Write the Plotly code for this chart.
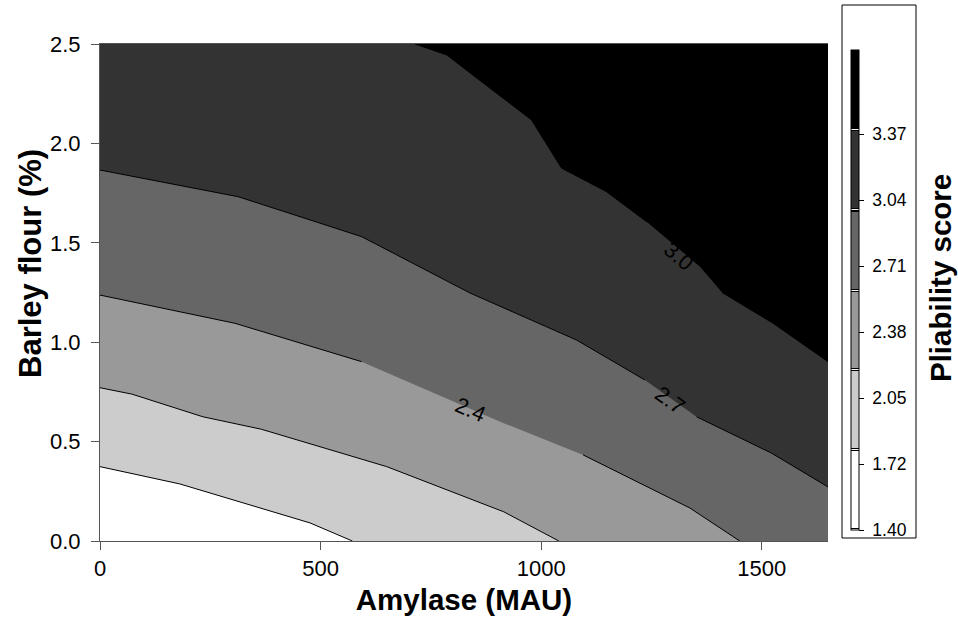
import math
import plotly.graph_objects as go

# Pliability score contour levels and their boundary vertices
# x: Amylase (MAU), y: Barley flour (%)
LEVELS = [1.8, 2.1, 2.4, 2.7, 3.0]

L18_X = [0, 181, 476, 572]
L18_Y = [0.374, 0.287, 0.091, 0.0]

L21_X = [0, 72, 233, 366, 650, 915, 1040]
L21_Y = [0.771, 0.739, 0.625, 0.562, 0.374, 0.147, 0.0]

L24_X = [0, 306, 593, 907, 1095, 1337, 1450]
L24_Y = [1.237, 1.095, 0.902, 0.600, 0.433, 0.166, 0.0]

L27_X = [0, 313, 593, 839, 1080, 1235, 1352, 1522, 1650]
L27_Y = [1.866, 1.732, 1.531, 1.247, 1.011, 0.810, 0.625, 0.442, 0.272]

L30_X = [714, 786, 839, 978, 1046, 1148, 1239, 1360, 1410, 1525, 1650]
L30_Y = [2.5, 2.445, 2.354, 2.118, 1.876, 1.757, 1.606, 1.380, 1.250, 1.096, 0.902]

LINES_X = [L18_X, L21_X, L24_X, L27_X, L30_X]
LINES_Y = [L18_Y, L21_Y, L24_Y, L27_Y, L30_Y]

# Inline contour labels: level, label centre, stretch of line left unstroked
LABEL_LEVELS = [2.4, 2.7, 3.0]
LABEL_X = [839, 1294, 1312]
LABEL_Y = [0.659, 0.709, 1.429]
LABEL_GAP_FROM = [593, 1235, 1239]
LABEL_GAP_TO = [1095, 1352, 1410]

# Colour bar tick labels
CBAR_TICK_TEXT = ["1.40", "1.72", "2.05", "2.38", "2.71", "3.04", "3.37"]
CBAR_TICK_VALS = [1.50, 1.7475, 1.995, 2.2425, 2.49, 2.7375, 2.985]

X_TICKS = [0, 500, 1000, 1500]
Y_TICKS = [0.0, 0.5, 1.0, 1.5, 2.0, 2.5]
XMAX, YMAX = 1650, 2.5

BAND_COLORS = ["#ffffff", "#cccccc", "#999999", "#666666", "#333333", "#000000"]
FONT = "Arial, 'Liberation Sans', sans-serif"
TITLE_SIZE = 29.5

W, H = 958, 627
MARGIN = dict(l=100, r=130, t=44, b=86)
PW = W - MARGIN["l"] - MARGIN["r"]
PH = H - MARGIN["t"] - MARGIN["b"]
SX = PW / XMAX
SY = PH / YMAX


def px_x(p):
    return (p - MARGIN["l"]) / PW


def px_y(p):
    return (H - MARGIN["b"] - p) / PH


def region_above(xs, ys):
    """Close a level line round the high-score (top-right) side of the plot."""
    px, py = list(xs), list(ys)
    if py[-1] <= 0:
        px += [XMAX, XMAX]
        py += [0, YMAX]
    else:
        px += [XMAX]
        py += [YMAX]
    if px[0] <= 0:
        px += [0]
        py += [YMAX]
    return px, py


fig = go.Figure()

# filled bands, lowest level first so higher bands sit on top
for lvl, xs, ys, col in zip(LEVELS, LINES_X, LINES_Y, BAND_COLORS[1:]):
    px, py = region_above(xs, ys)
    fig.add_trace(go.Scatter(
        x=px, y=py, mode="lines", fill="toself", fillcolor=col,
        line=dict(width=0, color=col), hoverinfo="skip", showlegend=False,
    ))

# contour strokes, broken where an inline label sits
for lvl, xs, ys in zip(LEVELS, LINES_X, LINES_Y):
    sx_, sy_ = list(xs), list(ys)
    if lvl in LABEL_LEVELS:
        k = LABEL_LEVELS.index(lvl)
        a, b = LABEL_GAP_FROM[k], LABEL_GAP_TO[k]
        sx_, sy_ = [], []
        for x, y in zip(xs, ys):
            if x <= a:
                sx_.append(x); sy_.append(y)
        sx_.append(None); sy_.append(None)
        for x, y in zip(xs, ys):
            if x >= b:
                sx_.append(x); sy_.append(y)
    fig.add_trace(go.Scatter(
        x=sx_, y=sy_, mode="lines", line=dict(color="black", width=1),
        hoverinfo="skip", showlegend=False, connectgaps=False,
    ))

# inline labels, rotated along their line
for lvl, lx, ly in zip(LABEL_LEVELS, LABEL_X, LABEL_Y):
    k = LEVELS.index(lvl)
    xs, ys = LINES_X[k], LINES_Y[k]
    i = max(j for j in range(len(xs) - 1) if xs[j] <= lx)
    dx = (xs[i + 1] - xs[i]) * SX
    dy = (ys[i] - ys[i + 1]) * SY
    ang = math.degrees(math.atan2(dy, dx))
    fig.add_annotation(
        x=lx, y=ly, text=f"{lvl:.1f}",
        textangle=ang, showarrow=False, xanchor="center", yanchor="middle",
        font=dict(family=FONT, size=22, color="black"),
    )

# colour bar
step = LEVELS[1] - LEVELS[0]
cmin, cmax = LEVELS[0] - step, LEVELS[-1] + step
bar_len = 480
g, o = 0.5 / bar_len, 1.0 / bar_len
n = len(BAND_COLORS)
cscale = []
for i, c in enumerate(BAND_COLORS):
    a, b = i / n, (i + 1) / n
    cscale += [[a, "white"], [a + g, "white"], [a + g, "black"], [a + g + o, "black"],
               [a + g + o, c], [b - g - o, c], [b - g - o, "black"], [b - g, "black"],
               [b - g, "white"], [b, "white"]]

fig.add_trace(go.Scatter(
    x=[None], y=[None], mode="markers", hoverinfo="skip", showlegend=False,
    marker=dict(
        color=[cmin], cmin=cmin, cmax=cmax, colorscale=cscale, showscale=True,
        colorbar=dict(
            x=px_x(851), xanchor="left", xpad=0,
            y=px_y(290), yanchor="middle", ypad=0,
            lenmode="pixels", len=bar_len, thickness=8,
            outlinewidth=1, outlinecolor="black",
            tickmode="array", tickvals=CBAR_TICK_VALS,
            ticktext=["\u00a0" + t for t in CBAR_TICK_TEXT],
            ticks="outside", ticklen=5, tickwidth=1, tickcolor="black",
            tickfont=dict(family=FONT, size=17.5, color="black"),
        ),
    ),
))

# frame round the colour bar
fig.add_shape(type="rect", xref="paper", yref="paper",
              x0=px_x(842), x1=px_x(916), y0=px_y(538), y1=px_y(5),
              line=dict(color="black", width=1), fillcolor="rgba(0,0,0,0)")

fig.add_annotation(
    xref="paper", yref="paper", x=px_x(940), y=px_y(278),
    xanchor="center", yanchor="middle",
    text="<b>Pliability score</b>", textangle=-90, showarrow=False,
    font=dict(family=FONT, size=TITLE_SIZE, color="black"),
)

fig.add_annotation(
    xref="paper", yref="paper", x=px_x(30), y=px_y(264),
    xanchor="center", yanchor="middle",
    text="<b>Barley flour (%)</b>", textangle=-90, showarrow=False,
    font=dict(family=FONT, size=31, color="black"),
)

axis_common = dict(
    showline=True, linecolor="#555555", linewidth=1,
    ticks="outside", ticklen=8, tickwidth=1, tickcolor="#555555",
    showgrid=False, zeroline=False,
    tickfont=dict(family=FONT, size=22, color="black"),
)

fig.update_layout(
    width=W, height=H, margin=MARGIN,
    paper_bgcolor="white", plot_bgcolor="white",
    xaxis=dict(range=[0, XMAX], tickvals=X_TICKS, mirror=True,
               title=dict(text="<b>Amylase (MAU)</b>", standoff=8,
                          font=dict(family=FONT, size=TITLE_SIZE, color="black")),
               **axis_common),
    yaxis=dict(range=[0, YMAX], tickvals=Y_TICKS, tickformat=".1f",
               ticklabelstandoff=6, **axis_common),
)

fig.write_html("out.html")
